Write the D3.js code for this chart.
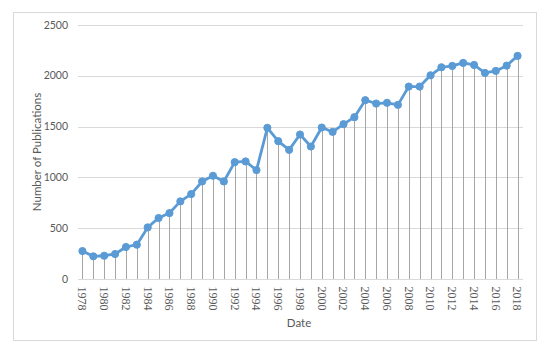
<!DOCTYPE html>
<html><head><meta charset="utf-8">
<script src="https://cdn.jsdelivr.net/npm/d3@7"></script>
<style>body{margin:0;background:#fff}svg{display:block}</style>
</head><body>
<svg id="chart" width="550" height="350"></svg>
<script>
const years = d3.range(1978, 2019);
const publications = [275,223,229,246,315,338,508,600,649,764,836,960,1016,960,1150,1157,1072,1488,1357,1271,1422,1304,1491,1448,1524,1593,1760,1727,1734,1714,1894,1894,2005,2084,2097,2127,2107,2028,2048,2100,2196];
const yTicks = [0,500,1000,1500,2000,2500];
const xTickLabels = years.filter(y => (y - 1978) % 2 === 0);

const svg = d3.select("#chart");
svg.append("rect").attr("x",13.5).attr("y",12.5).attr("width",523).attr("height",328)
  .attr("fill","#fff").attr("stroke","#d9d9d9").attr("stroke-width",1);

const x = d3.scaleBand().domain(years).range([77,523]);
const cx = d => x(d) + x.bandwidth()/2;
const y = d3.scaleLinear().domain([0,2500]).range([279,25]);

// gridlines
svg.append("g").selectAll("line").data(yTicks.filter(t=>t>0)).join("line")
  .attr("x1",78).attr("x2",523).attr("y1",d=>Math.round(y(d))+0.5).attr("y2",d=>Math.round(y(d))+0.5)
  .attr("stroke","#d9d9d9").attr("stroke-width",1);

// axis line
svg.append("line").attr("x1",78).attr("x2",523).attr("y1",279.5).attr("y2",279.5)
  .attr("stroke","#d9d9d9").attr("stroke-width",1);

// y labels
svg.append("g").selectAll("text").data(yTicks).join("text")
  .attr("x",68).attr("y",d=>y(d)).attr("dy","0.35em").attr("text-anchor","end")
  .attr("font-family","Lato, 'Open Sans', sans-serif").attr("font-size",10.5).attr("fill","#595959")
  .text(d=>d);

// drop lines
svg.append("g").selectAll("line").data(years).join("line")
  .attr("x1",d=>Math.round(cx(d))+0.5).attr("x2",d=>Math.round(cx(d))+0.5)
  .attr("y1",(d,i)=>y(publications[i])).attr("y2",279)
  .attr("stroke","#a6a6a6").attr("stroke-width",1);

// x tick labels rotated
svg.append("g").selectAll("text").data(xTickLabels).join("text")
  .attr("transform",d=>`translate(${cx(d)},286.5) rotate(90)`)
  .attr("dy","0.35em").attr("text-anchor","start")
  .attr("font-family","'Liberation Serif', 'DejaVu Serif', serif").attr("font-size",12).attr("fill","#595959")
  .text(d=>d);

// line
const line = d3.line().x((d,i)=>cx(years[i])).y(d=>y(d));
svg.append("path").datum(publications).attr("d",line)
  .attr("fill","none").attr("stroke","#5b9bd5").attr("stroke-width",2.8).attr("stroke-linejoin","round");

svg.append("g").selectAll("circle").data(publications).join("circle")
  .attr("cx",(d,i)=>cx(years[i])).attr("cy",d=>y(d)).attr("r",3.6)
  .attr("fill","#5b9bd5").attr("stroke","#5b9bd5").attr("stroke-width",1);

// titles
svg.append("text").attr("x",299).attr("y",327).attr("text-anchor","middle")
  .attr("font-family","Lato, 'Open Sans', sans-serif").attr("font-size",11.5).attr("fill","#595959").text("Date");
svg.append("text").attr("transform","translate(37,152) rotate(-90)").attr("dy","0.35em").attr("text-anchor","middle")
  .attr("font-family","Lato, 'Open Sans', sans-serif").attr("font-size",11.5).attr("fill","#595959").text("Number of Publications");
</script>
</body></html>
